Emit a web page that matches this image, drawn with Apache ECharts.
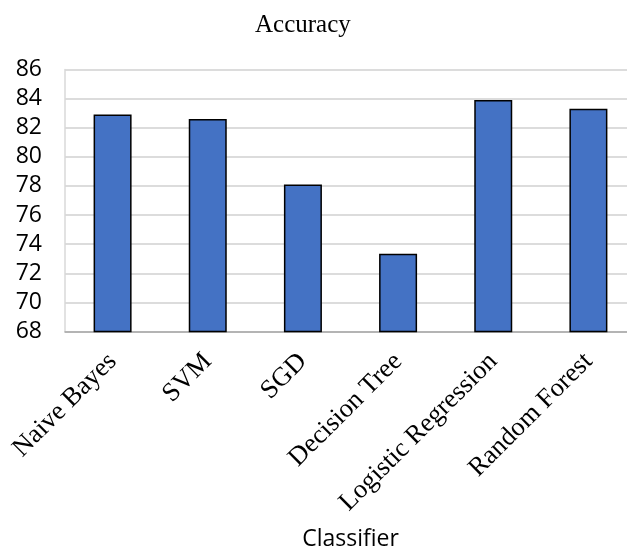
<!DOCTYPE html>
<html>
<head>
<meta charset="utf-8">
<script src="https://cdn.jsdelivr.net/npm/echarts@6/dist/echarts.min.js"></script>
<style>html,body{margin:0;padding:0;background:#fff;}#c{width:627px;height:551px;}</style>
</head>
<body>
<div id="c"></div>
<script>
const categories = ['Naive Bayes', 'SVM', 'SGD', 'Decision Tree', 'Logistic Regression', 'Random Forest'];
const accuracy = [82.9, 82.6, 78.1, 73.35, 83.9, 83.3];
const yTicks = [68, 70, 72, 74, 76, 78, 80, 82, 84, 86];

const chart = echarts.init(document.getElementById('c'));
chart.setOption({
  animation: false,
  backgroundColor: '#ffffff',
  title: {
    text: 'Accuracy',
    left: 250,
    top: 8,
    textStyle: { fontFamily: 'Liberation Serif', fontSize: 25, fontWeight: 'normal', color: '#000' }
  },
  grid: { left: 65, width: 571, top: 69.5, height: 262, containLabel: false, outerBoundsMode: 'none' },
  xAxis: {
    type: 'category',
    data: categories,
    name: 'Classifier',
    nameLocation: 'middle',
    nameGap: 196,
    nameTextStyle: { fontFamily: 'Open Sans', fontSize: 23, color: '#000' },
    axisLine: { show: true, lineStyle: { color: '#a6a6a6', width: 1.5 } },
    axisTick: { show: false },
    axisLabel: {
      rotate: 45,
      interval: 0,
      margin: 26,
      fontFamily: 'Liberation Serif',
      fontSize: 26.5,
      color: '#000'
    }
  },
  yAxis: {
    type: 'value',
    min: yTicks[0],
    max: yTicks[yTicks.length - 1],
    interval: 2,
    axisLine: { show: true, lineStyle: { color: '#d9d9d9', width: 1.5 } },
    axisTick: { show: false },
    splitLine: { show: true, lineStyle: { color: '#d0d0d0', width: 1.5 } },
    axisLabel: {
      margin: 23,
      fontFamily: 'Open Sans',
      fontSize: 23,
      color: '#000'
    }
  },
  series: [{
    type: 'bar',
    data: accuracy,
    barWidth: 38,
    itemStyle: { color: '#4472C4', borderColor: '#000', borderWidth: 1.5 }
  }]
});
</script>
</body>
</html>
